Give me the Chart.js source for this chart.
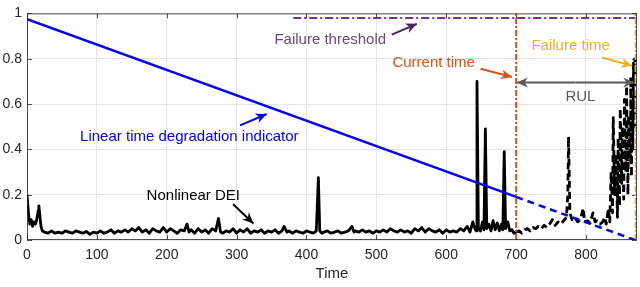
<!DOCTYPE html>
<html>
<head>
<meta charset="utf-8">
<script src="https://cdn.jsdelivr.net/npm/chart.js@4/dist/chart.umd.min.js"></script>
<style>
body { margin: 0; background: #fff; }
#wrap { width: 640px; height: 287px; }
</style>
</head>
<body>
<div id="wrap"><canvas id="chart"></canvas></div>
<script>
// axis ticks
const xTicks = [0, 100, 200, 300, 400, 500, 600, 700, 800];
const yTicks = [0, 0.2, 0.4, 0.6, 0.8, 1];

// nonlinear DEI (black), solid up to current time, dashed after
const deiTime = [0, 2, 4, 6, 8, 10, 12, 14, 16, 17, 18, 20, 22, 25, 30, 35, 40, 45, 50, 55, 60, 65, 70, 75, 80, 85, 90, 95,
  100, 105, 110, 115, 120, 125, 130, 135, 140, 145, 150, 155, 160, 165, 170, 175, 180, 185, 190, 195,
  200, 205, 210, 215, 220, 225, 229, 232, 235, 240, 245, 250, 255, 260, 265, 270, 274, 277, 280, 285, 290, 295,
  300, 305, 310, 315, 320, 325, 330, 335, 340, 345, 350, 355, 360, 365, 368, 372, 375, 380, 385, 390, 395,
  400, 405, 410, 414, 417, 419, 422, 425, 430, 435, 440, 445, 450, 455, 460, 465, 468, 470, 475, 480, 485, 490, 495,
  500, 505, 510, 515, 520, 525, 530, 535, 540, 545, 550, 555, 560, 565, 570, 575, 580, 585, 590, 595,
  600, 605, 610, 615, 620, 625, 630, 634, 638, 641, 643, 644, 646, 649, 652, 654, 656, 658, 661, 664, 667, 670,
  673, 676, 679, 681, 683, 685, 688, 691, 694, 697, 700,
  704, 708, 712, 716, 720, 724, 728, 732, 736, 740, 744, 748, 752, 756, 760, 764, 768, 772, 774, 775, 777,
  780, 784, 788, 792, 796, 798, 802, 806, 810, 813, 816, 820, 824, 827, 829, 832, 834, 836, 838, 839, 841,
  843, 845, 846, 848, 849, 851, 852, 854, 855, 857, 858, 860, 861, 863, 864, 865, 866, 867, 868, 869, 870];
const deiValue = [0.20, 0.12, 0.07, 0.09, 0.06, 0.08, 0.07, 0.09, 0.13, 0.15, 0.12, 0.06, 0.04, 0.035, 0.03, 0.04, 0.03, 0.035, 0.03, 0.04, 0.035, 0.03, 0.04, 0.035, 0.03, 0.038, 0.025, 0.035,
  0.03, 0.04, 0.03, 0.035, 0.045, 0.03, 0.04, 0.035, 0.045, 0.035, 0.05, 0.04, 0.055, 0.035, 0.045, 0.03, 0.05, 0.04, 0.035, 0.055,
  0.035, 0.05, 0.04, 0.03, 0.045, 0.04, 0.07, 0.035, 0.045, 0.03, 0.05, 0.035, 0.045, 0.03, 0.05, 0.04, 0.095, 0.035, 0.03, 0.04, 0.035, 0.05,
  0.03, 0.045, 0.035, 0.05, 0.03, 0.04, 0.035, 0.045, 0.03, 0.04, 0.035, 0.045, 0.03, 0.04, 0.06, 0.035, 0.04, 0.03, 0.04, 0.035, 0.03,
  0.04, 0.035, 0.03, 0.04, 0.275, 0.04, 0.03, 0.035, 0.04, 0.03, 0.035, 0.04, 0.03, 0.035, 0.04, 0.06, 0.035, 0.04, 0.035, 0.045, 0.035, 0.04, 0.03,
  0.04, 0.035, 0.045, 0.035, 0.05, 0.04, 0.035, 0.045, 0.035, 0.04, 0.03, 0.05, 0.04, 0.055, 0.035, 0.05, 0.04, 0.035, 0.045, 0.03,
  0.045, 0.035, 0.04, 0.035, 0.05, 0.04, 0.06, 0.035, 0.08, 0.05, 0.04, 0.70, 0.05, 0.04, 0.08, 0.045, 0.49, 0.05, 0.07, 0.04, 0.085, 0.045,
  0.075, 0.04, 0.07, 0.045, 0.39, 0.05, 0.08, 0.04, 0.045, 0.03, 0.035,
  0.04, 0.03, 0.045, 0.05, 0.04, 0.055, 0.05, 0.06, 0.05, 0.065, 0.055, 0.07, 0.09, 0.065, 0.08, 0.07, 0.085, 0.10, 0.20, 0.456, 0.12,
  0.09, 0.10, 0.08, 0.09, 0.14, 0.08, 0.085, 0.075, 0.12, 0.08, 0.085, 0.07, 0.08, 0.10, 0.07, 0.14, 0.08, 0.30, 0.12, 0.54, 0.20,
  0.38, 0.10, 0.45, 0.15, 0.58, 0.25, 0.50, 0.18, 0.62, 0.30, 0.68, 0.20, 0.55, 0.35, 0.72, 0.28, 0.60, 0.40, 0.78, 0.50, 0.82];

// linear time degradation indicator (blue)
const linTime = [0, 700, 870];
const linValue = [0.975, 0.19, 0];

// reference lines
const currentTime = 700;
const failureTime = 871;
const thresholdStart = 381;
const thresholdValue = 0.98;

const xMax = 873;

const blue = '#0000ff';
const purple = '#7e2f8e';
const red = '#d95319';
const orange = '#edb120';
const axisCol = '#262626';
const fontFam = '"Liberation Sans", Arial, sans-serif';

function pts(t, v) {
  return t.map((x, i) => ({ x: x, y: v[i] }));
}

// annotations in data units
const notes = [
  { text: 'Failure threshold', x: 434, y: 0.885, color: '#6a4a78', align: 'center' },
  { text: 'Current time', x: 582, y: 0.782, color: red, align: 'center' },
  { text: 'Failure time', x: 778, y: 0.855, color: orange, align: 'center' },
  { text: 'Linear time degradation indicator', x: 76, y: 0.457, color: blue, align: 'left' },
  { text: 'Nonlinear DEI', x: 238, y: 0.195, color: '#000', align: 'center' },
  { text: 'RUL', x: 792, y: 0.632, color: '#595959', align: 'center' }
];
const arrows = [
  { from: [522, 0.906], to: [558, 0.954], color: '#502060' },
  { from: [649, 0.756], to: [694, 0.719], color: red },
  { from: [823, 0.805], to: [866, 0.769], color: orange },
  { from: [305, 0.506], to: [343, 0.556], color: blue },
  { from: [295, 0.158], to: [324, 0.073], color: '#000' },
  { from: [785, 0.695], to: [701, 0.695], color: '#595959' },
  { from: [785, 0.695], to: [869, 0.695], color: '#595959' }
];

function arrowHead(ctx, x1, y1, x2, y2, len, half) {
  const a = Math.atan2(y2 - y1, x2 - x1);
  ctx.beginPath();
  ctx.moveTo(x2, y2);
  ctx.lineTo(x2 - len * Math.cos(a) + half * Math.sin(a), y2 - len * Math.sin(a) - half * Math.cos(a));
  ctx.lineTo(x2 - len * 0.7 * Math.cos(a), y2 - len * 0.7 * Math.sin(a));
  ctx.lineTo(x2 - len * Math.cos(a) - half * Math.sin(a), y2 - len * Math.sin(a) + half * Math.cos(a));
  ctx.closePath();
  ctx.fill();
}

const extras = {
  id: 'extras',
  beforeDatasetsDraw(chart) {
    // inward ticks on all edges, like the original axes box
    const { ctx, chartArea: a, scales } = chart;
    ctx.save();
    ctx.strokeStyle = axisCol;
    ctx.lineWidth = 0.8;
    xTicks.forEach(t => {
      const px = Math.round(scales.x.getPixelForValue(t)) + 0.5;
      ctx.beginPath();
      ctx.moveTo(px, a.top); ctx.lineTo(px, a.top + 5);
      ctx.moveTo(px, a.bottom); ctx.lineTo(px, a.bottom - 5);
      ctx.stroke();
    });
    yTicks.forEach(v => {
      const py = Math.round(scales.y.getPixelForValue(v)) + 0.5;
      ctx.beginPath();
      ctx.moveTo(a.left, py); ctx.lineTo(a.left + 5, py);
      ctx.moveTo(a.right, py); ctx.lineTo(a.right - 5, py);
      ctx.stroke();
    });
    ctx.restore();
  },
  afterDatasetsDraw(chart) {
    const { ctx, chartArea: a, scales } = chart;
    ctx.save();
    ctx.strokeStyle = axisCol;
    ctx.lineWidth = 0.8;
    ctx.strokeRect(a.left + 0.5, a.top + 0.5, a.right - a.left - 1, a.bottom - a.top - 1);

    arrows.forEach(ar => {
      const x1 = scales.x.getPixelForValue(ar.from[0]);
      const y1 = scales.y.getPixelForValue(ar.from[1]);
      const x2 = scales.x.getPixelForValue(ar.to[0]);
      const y2 = scales.y.getPixelForValue(ar.to[1]);
      ctx.strokeStyle = ar.color;
      ctx.fillStyle = ar.color;
      ctx.lineWidth = 2;
      ctx.beginPath();
      ctx.moveTo(x1, y1);
      ctx.lineTo(x2, y2);
      ctx.stroke();
      arrowHead(ctx, x1, y1, x2, y2, 11, 5);
    });

    ctx.font = '15px ' + fontFam;
    ctx.textBaseline = 'middle';
    notes.forEach(n => {
      ctx.fillStyle = n.color;
      ctx.textAlign = n.align;
      ctx.fillText(n.text, scales.x.getPixelForValue(n.x), scales.y.getPixelForValue(n.y));
    });
    ctx.restore();
  }
};

new Chart(document.getElementById('chart'), {
  type: 'line',
  data: {
    datasets: [
      {
        label: 'Current time',
        data: pts([currentTime, currentTime], [0, 1]),
        borderColor: red, borderWidth: 2, borderDash: [6, 2, 2, 2],
        pointRadius: 0, order: 1
      },
      {
        label: 'Failure time',
        data: pts([failureTime, failureTime], [0, 1]),
        borderColor: orange, borderWidth: 2, borderDash: [6, 2, 2, 2],
        pointRadius: 0, order: 2
      },
      {
        label: 'Failure threshold',
        data: pts([thresholdStart, failureTime], [thresholdValue, thresholdValue]),
        borderColor: purple, borderWidth: 2, borderDash: [8, 3, 2, 3],
        pointRadius: 0, order: 3
      },
      {
        label: 'Linear time degradation indicator',
        data: pts(linTime, linValue),
        borderColor: blue, borderWidth: 2.5,
        segment: { borderDash: c => c.p0.parsed.x >= currentTime ? [7, 5] : undefined },
        pointRadius: 0, order: 4
      },
      {
        label: 'Nonlinear DEI',
        data: pts(deiTime, deiValue),
        borderColor: '#000', borderWidth: 2.8, borderJoinStyle: 'round',
        segment: { borderDash: c => c.p0.parsed.x >= currentTime ? [7, 4] : undefined },
        pointRadius: 0, order: 5
      }
    ]
  },
  options: {
    responsive: true,
    maintainAspectRatio: false,
    animation: false,
    layout: { padding: { top: 6, right: 3, left: 0, bottom: 0 } },
    plugins: { legend: { display: false }, tooltip: { enabled: false } },
    scales: {
      x: {
        type: 'linear', min: 0, max: xMax,
        afterBuildTicks: s => { s.ticks = xTicks.map(v => ({ value: v })); },
        afterFit: s => { s.height = 47; },
        grid: { color: '#e6e6e6', drawTicks: false },
        border: { display: false },
        ticks: { color: axisCol, font: { family: fontFam, size: 14 }, padding: 7, maxRotation: 0 },
        title: { display: true, text: 'Time', color: axisCol, font: { family: fontFam, size: 15 }, padding: { top: 0, bottom: 4 } }
      },
      y: {
        type: 'linear', min: 0, max: 1,
        afterBuildTicks: s => { s.ticks = yTicks.map(v => ({ value: v })); },
        afterFit: s => { s.width = 27; },
        grid: { color: '#e6e6e6', drawTicks: false },
        border: { display: false },
        ticks: { color: axisCol, font: { family: fontFam, size: 14 }, padding: 5, callback: v => String(v) }
      }
    }
  },
  plugins: [extras]
});
</script>
</body>
</html>
